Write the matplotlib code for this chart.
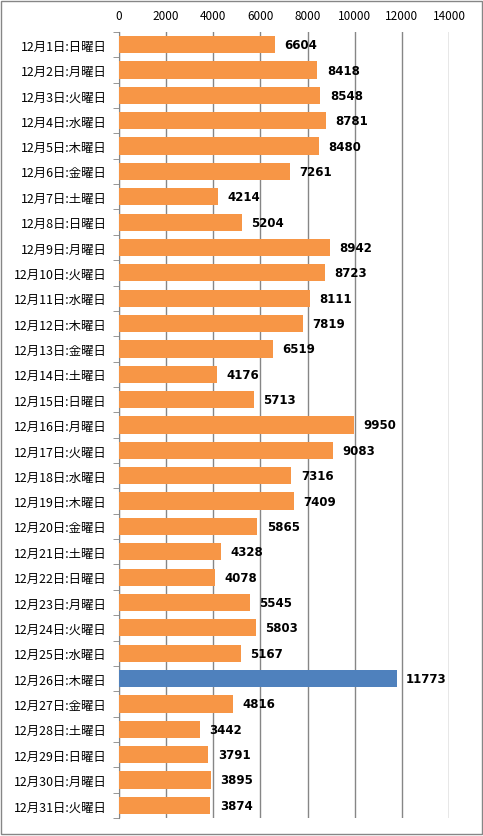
import matplotlib.pyplot as plt
from matplotlib.patches import Rectangle

plt.rcParams['font.family'] = ['Noto Sans CJK JP', 'DejaVu Sans']

weekdays = ["日", "月", "火", "水", "木", "金", "土"]
days = list(range(1, 32))
labels = ["12月%d日:%s曜日" % (d, weekdays[(d - 1) % 7]) for d in days]
values = [6604, 8418, 8548, 8781, 8480, 7261, 4214, 5204, 8942, 8723,
          8111, 7819, 6519, 4176, 5713, 9950, 9083, 7316, 7409, 5865,
          4328, 4078, 5545, 5803, 5167, 11773, 4816, 3442, 3791, 3895, 3874]
highlight = "12月26日:木曜日"

orange = "#F79646"
blue = "#4F81BD"
colors = [blue if l == highlight else orange for l in labels]

fig = plt.figure(figsize=(4.83, 8.37), dpi=100)
fig.patches.append(Rectangle((0.003, 0.002), 0.994, 0.996, transform=fig.transFigure,
                             fill=False, edgecolor="#868686", linewidth=1))
ax = fig.add_axes([0.2464, 0.0215, 0.6832, 0.9391])

ypos = list(range(len(values)))
ax.barh(ypos, values, height=0.68, color=colors, zorder=3)
for y, v in zip(ypos, values):
    ax.text(v + 400, y, str(v), va="center", ha="left", fontsize=8.5,
            fontweight="bold", family=["DejaVu Sans"], zorder=4)

ax.set_xlim(0, 14000)
ax.set_ylim(len(values) - 0.5, -0.5)
ax.set_xticks(range(0, 14001, 2000))
ax.xaxis.tick_top()
ax.tick_params(axis="x", length=0, labelsize=8.5, pad=7)
ax.set_yticks(ypos)
ax.set_yticklabels(labels, fontsize=8.9)
ax.tick_params(axis="y", length=0, pad=9)
ax.set_yticks([y - 0.5 for y in ypos] + [len(values) - 0.5], minor=True)
ax.tick_params(axis="y", which="minor", length=4, color="#868686")
ax.grid(axis="x", color="#868686", linewidth=1, zorder=0)
for s in ["top", "right", "bottom"]:
    ax.spines[s].set_visible(False)
ax.spines["left"].set_color("#868686")

fig.savefig("out.png", dpi=100)
